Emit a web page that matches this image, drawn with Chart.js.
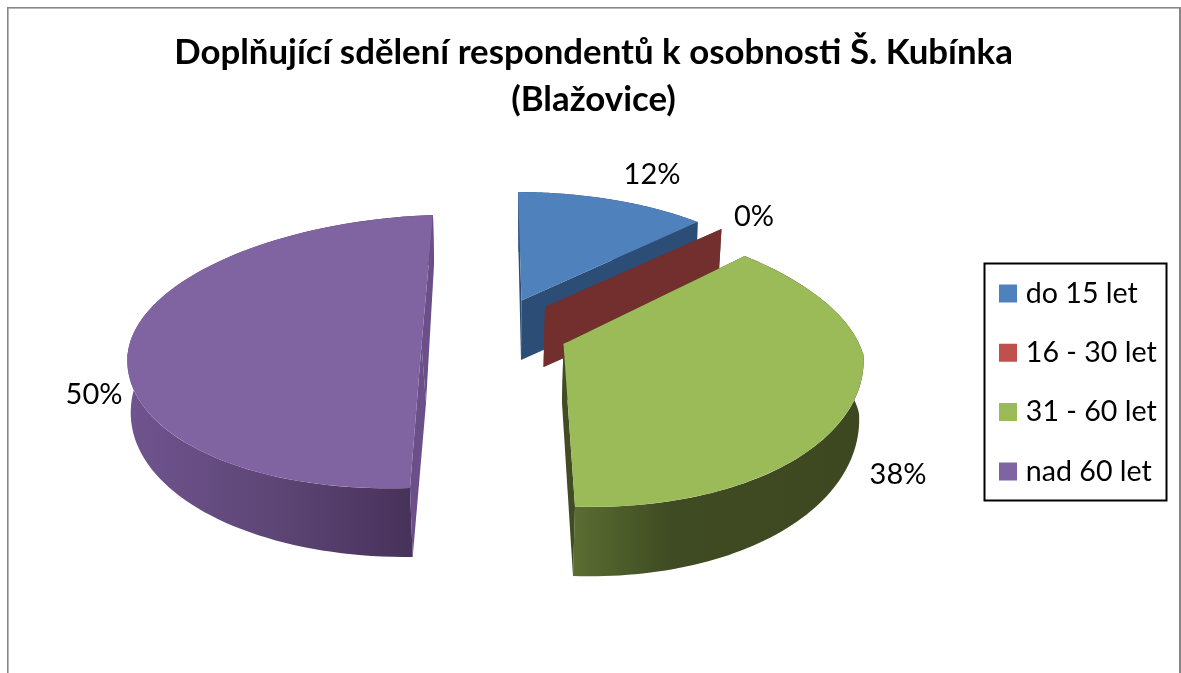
<!DOCTYPE html>
<html><head><meta charset="utf-8">
<style>html,body{margin:0;padding:0;background:#fff}canvas{display:block}</style>
<script src="https://cdn.jsdelivr.net/npm/chart.js@4"></script>
</head><body>
<canvas id="c" width="1181" height="673"></canvas>
<script>
const categories = ['do 15 let', '16 - 30 let', '31 - 60 let', 'nad 60 let'];
const values = [12, 0, 38, 50];
const colors = ['#4F81BD', '#C0504D', '#9BBB59', '#8064A2'];
const titleLines = ['Doplňující sdělení respondentů k osobnosti Š. Kubínka', '(Blažovice)'];

// Look of the tilted, exploded 3-D pie (per slice: projection of the arc, wall colours, label anchor)
const paintOrder = [3, 0, 1, 2];
const look = [
 { top:{C:[521.5,300.5],U:[261,1],Uf:[261,1],Vb:[3.5,108.5],Vf:[3.5,108.5]},
   bot:{C:[521,360],U:[258,1],Uf:[258,1],Vb:[2.5,108],Vf:[2.5,108]},
   cut:'#2C4D75', wall:[[0,'#2C4D75'],[1,'#2C4D75']], wx:[520,700], label:[652,174.5] },
 { top:{C:[545,307],U:[261,1],Uf:[261,1],Vb:[3,108],Vf:[3,108]},
   bot:{C:[543.5,367],U:[258,1],Uf:[258,1],Vb:[3,108],Vf:[3,108]},
   cut:'#722F2E', wall:[[0,'#722F2E'],[1,'#722F2E']], wx:[540,720], label:[754,217] },
 { top:{C:[563.5,344],U:[300,12],Uf:[300,10],Vb:[33,132],Vf:[11.5,162.5]},
   bot:{C:[562,403],U:[297,10],Uf:[297,10],Vb:[33,132],Vf:[11,173]},
   cut:'#414C22', wall:[[0,'#5A6D31'],[.33,'#3F4B22'],[1,'#3D4821']], wx:[575,865], label:[898,474.5] },
 { top:{C:[421.5,345],U:[294,-10],Uf:[294,-10],Vb:[-11.5,130],Vf:[-11.5,143]},
   bot:{C:[426,403],U:[295,-3],Uf:[295,-3],Vb:[-8,138],Vf:[-13.3,154]},
   cut:'#6A4F88', wall:[[0,'#6F548F'],[.5,'#5E4676'],[1,'#47325A']], wx:[128,414], label:[94,394.5] }
];

function project(f, a) {
  const front = Math.sin(a) >= 0, V = front ? f.Vf : f.Vb, U = front ? f.Uf : f.U;
  const c = Math.cos(a), s = Math.sin(a);
  return [f.C[0] + U[0]*c + V[0]*s, f.C[1] + U[1]*c + V[1]*s];
}
function poly(ctx, pts, fill) {
  ctx.beginPath();
  pts.forEach((p, i) => i ? ctx.lineTo(p[0], p[1]) : ctx.moveTo(p[0], p[1]));
  ctx.closePath();
  ctx.fillStyle = fill;
  ctx.fill();
}
function drawFace(ctx, arc, f, back) {
  const R = arc.outerRadius, lap = 3, U = back ? f.U : f.Uf, V = back ? f.Vb : f.Vf;
  ctx.save();
  ctx.translate(f.C[0], f.C[1]);
  ctx.transform(U[0]/R, U[1]/R, V[0]/R, V[1]/R, 0, 0);
  ctx.translate(-arc.x, -arc.y);
  ctx.beginPath();
  if (back) ctx.rect(arc.x - R - 9, arc.y - R - 9, 2*R + 18, R + 9 + lap);
  else ctx.rect(arc.x - R - 9, arc.y - lap, 2*R + 18, R + 9 + lap);
  ctx.clip();
  arc.draw(ctx);
  ctx.restore();
}

const pie3d = {
  id: 'pie3d',
  beforeDraw(chart) {
    const ctx = chart.ctx;
    ctx.save();
    ctx.fillStyle = '#fff';
    ctx.fillRect(0, 0, 1181, 673);
    ctx.fillStyle = '#868686';
    ctx.fillRect(7, 7, 1174, 1.6);
    ctx.fillRect(7, 7, 1.6, 666);
    ctx.fillRect(1179, 7, 2, 666);
    ctx.strokeStyle = '#000';
    ctx.lineWidth = 2;
    ctx.strokeRect(984.5, 263.5, 182, 237);
    ctx.restore();
  },
  afterLayout(chart) {
    const t = chart.titleBlock, l = chart.legend;
    t.left = 6; t.right = 1181; t.top = 30; t.bottom = 132;
    const o = l.options.labels;
    l.left = 1004.5 - o.padding; l.right = 1181;
    l.top = 293.5 - o.font.size/2 - o.padding; l.bottom = 560;
  },
  beforeDatasetDraw(chart, args) {
    const ctx = chart.ctx, arcs = args.meta.data;
    paintOrder.forEach(i => {
      const arc = arcs[i], g = look[i], a0 = arc.startAngle, a1 = arc.endAngle;
      // curved outer wall
      if (a1 > a0) {
        const up = [], dn = [];
        for (let k = 0; k <= 90; k++) {
          const a = a0 + (a1 - a0)*k/90;
          up.push(project(g.top, a)); dn.unshift(project(g.bot, a));
        }
        const gr = ctx.createLinearGradient(g.wx[0], 0, g.wx[1], 0);
        g.wall.forEach(s => gr.addColorStop(s[0], s[1]));
        poly(ctx, up.concat(dn), gr);
      }
      // cut faces
      poly(ctx, [project(g.top,a0), g.top.C, g.bot.C, project(g.bot,a0)], g.cut);
      poly(ctx, [project(g.top,a1), g.top.C, g.bot.C, project(g.bot,a1)], g.cut);
      // top face, drawn by the chart's own arc element
      if (a1 > a0) {
        if (a0 < 0 || a1 > Math.PI) drawFace(ctx, arc, g.top, true);
        if (a1 > 0 && a0 < Math.PI) drawFace(ctx, arc, g.top, false);
      }
    });
    return false;
  },
  afterDatasetsDraw(chart) {
    const ctx = chart.ctx;
    ctx.save();
    ctx.font = '29px Lato';
    ctx.fillStyle = '#000';
    ctx.textAlign = 'center';
    ctx.textBaseline = 'middle';
    values.forEach((v, i) => ctx.fillText(v + '%', look[i].label[0], look[i].label[1]));
    ctx.restore();
  }
};

new Chart(document.getElementById('c'), {
  type: 'pie',
  data: { labels: categories, datasets: [{ data: values, backgroundColor: colors, borderWidth: 0 }] },
  plugins: [pie3d],
  options: {
    responsive: false,
    animation: false,
    plugins: {
      tooltip: { enabled: false },
      title: { display: true, text: titleLines, color: '#000', padding: 0,
               font: { family: 'Lato', size: 34.8, weight: 'bold', lineHeight: 1.33 } },
      legend: { display: true, position: 'right', align: 'start',
        labels: {
          color: '#000', font: { family: 'Lato', size: 28.6 }, padding: 30.7,
          boxWidth: 7, boxHeight: 7,
          generateLabels: () => categories.map((t, i) => ({
            text: t, fillStyle: colors[i], strokeStyle: colors[i], lineWidth: 11, index: i, hidden: false
          }))
        } }
    }
  }
});
</script>
</body></html>
